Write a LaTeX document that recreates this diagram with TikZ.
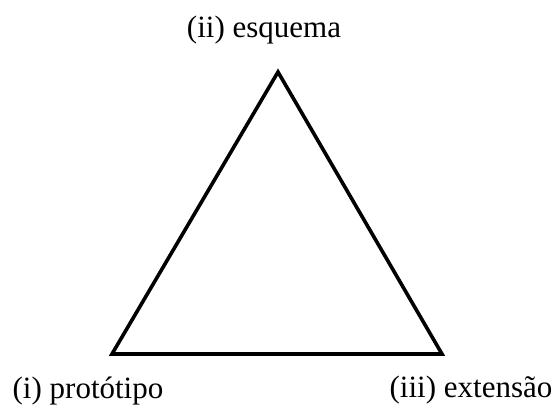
\documentclass[tikz,border=0pt]{standalone}
\usepackage{fontspec}
\setmainfont{Liberation Serif}
\usepackage{tikz}
\usetikzlibrary{positioning}

\begin{document}
\begin{tikzpicture}[x=1pt, y=-1pt,
  edge/.style={draw=black, line width=3.6pt, line join=miter},
  lbl/.style={anchor=base, inner sep=0pt, font=\fontsize{31}{36}\selectfont}]
  \useasboundingbox (0,0) rectangle (558,412);
  % vertices
  \coordinate (proto) at (112,354);
  \coordinate (esq)   at (278,72);
  \coordinate (ext)   at (442,354);
  \draw[edge] (proto) -- (esq) -- (ext) -- cycle;
  % labels
  \node[lbl] (lesq)   at (264,38)  {(ii) esquema};
  \node[lbl] (lproto) at (88,398)  {(i) protótipo};
  \node[lbl] (lext)   at (471,397) {(iii) extensão};
\end{tikzpicture}
\end{document}
